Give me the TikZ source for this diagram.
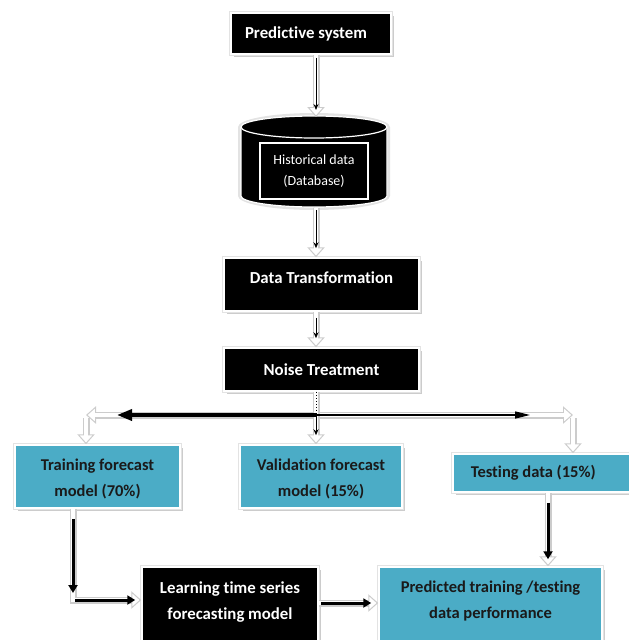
\documentclass[tikz,border=0pt]{standalone}
\usepackage{fontspec}
\setmainfont{Carlito}[Ligatures=NoCommon]
\usetikzlibrary{arrows.meta,shadows}
\definecolor{cyanbox}{HTML}{4BACC6}
\definecolor{darktext}{HTML}{1A1A1A}
\begin{document}
\begin{tikzpicture}[x=1pt,y=1pt,
  box/.style={rectangle, inner sep=0pt, draw=white, line width=1.5pt,
    drop shadow={shadow xshift=2.5pt, shadow yshift=-2.5pt, fill=gray!40, opacity=1},
    preaction={draw=gray!22, line width=4.5pt}},
  blackbox/.style={box, fill=black},
  cbox/.style={box, fill=cyanbox},
  wtxt/.style={text=white, font=\bfseries\fontsize{16.8}{26}\selectfont, align=center},
  dtxt/.style={text=darktext, font=\bfseries\fontsize{16.5}{26}\selectfont, align=center},
  hollow/.style={line width=7pt, draw=gray!40, -{Triangle[width=17pt,length=10pt]},
    postaction={draw=white, line width=4.4pt, -{Triangle[width=12pt,length=7pt]}, shorten >=1.8pt}},
  blkthin/.style={line width=1pt, draw=black, -{Stealth[width=5pt,length=6pt]}},
  blkmid/.style={line width=3.4pt, draw=black, -{Triangle[width=11pt,length=15pt]}},
  blkthick/.style={line width=3pt, draw=black, -{Triangle[width=9pt,length=8pt]}},
]
\useasboundingbox (0,0) rectangle (629,-640);
\clip (0,0) rectangle (629,-640);

% ---- nodes ----
\node[blackbox, minimum width=160, minimum height=41,
  label={[wtxt, xshift=-5pt]center:Predictive system}] (pred) at (311,-33.5) {};

% cylinder (database)
\fill[gray!22] (238,-127) -- (238,-196) arc[start angle=180,end angle=360,x radius=76,y radius=14]
  -- (390,-127) arc[start angle=0,end angle=180,x radius=76,y radius=14] -- cycle;
\filldraw[fill=black, draw=white, line width=1.2pt] (241,-127) -- (241,-196)
  arc[start angle=180,end angle=360,x radius=73,y radius=11]
  -- (387,-127) arc[start angle=0,end angle=180,x radius=73,y radius=11] -- cycle;
\draw[white, line width=1.2pt] (241,-127) arc[start angle=180,end angle=360,x radius=73,y radius=11];
\coordinate (cyltop) at (316,-117);
\coordinate (cylbot) at (316,-208);
\node[rectangle, fill=black, draw=white, line width=1.5pt, minimum width=108, minimum height=56,
  text=white, font=\fontsize{14}{21}\selectfont, align=center] (hist) at (314,-171)
  {Historical data\\(Database)};

\node[blackbox, minimum width=195, minimum height=53,
  label={[wtxt, yshift=6.5pt]center:Data Transformation}] (dt) at (321.5,-284.5) {};
\node[blackbox, minimum width=195, minimum height=43,
  label={[wtxt]center:Noise Treatment}] (nt) at (321.5,-369.5) {};

\node[cbox, minimum width=165, minimum height=63,
  label={[dtxt, yshift=-2pt]center:Training forecast\\model (70\%)}] (train) at (97.5,-476.5) {};
\node[cbox, minimum width=162, minimum height=63,
  label={[dtxt, yshift=-2pt]center:Validation forecast\\model (15\%)}] (val) at (321,-476.5) {};
\node[cbox, minimum width=207, minimum height=38,
  label={[dtxt, anchor=west, xshift=15pt]west:Testing data (15\%)}] (test) at (556.5,-473) {};

\node[blackbox, minimum width=176, minimum height=93,
  label={[wtxt, yshift=11.5pt]center:Learning time series\\forecasting model}] (learn) at (230,-613.5) {};
\node[cbox, minimum width=223, minimum height=93,
  label={[dtxt, yshift=12.5pt]center:Predicted training /testing\\data performance}] (res) at (490.5,-613.5) {};

% ---- connectors ----
\coordinate (ax) at (316,0);
\coordinate (split) at (316,-415);
\coordinate (lcorner) at (86,-415);
\coordinate (rcorner) at (573,-415);
\coordinate (tcorner) at (73,-600);
\coordinate (tx) at (548,0);

% predictive -> database
\draw[hollow] (pred.south -| ax) -- (cyltop);
\draw[blkthin] ([yshift=-3pt]pred.south -| ax) -- ([yshift=7pt]cyltop);
% database -> data transformation
\draw[hollow] (cylbot) -- (dt.north -| ax);
\draw[blkthin] ([yshift=-2pt]cylbot) -- ([yshift=9pt]dt.north -| ax);
% data transformation -> noise treatment
\draw[hollow] (dt.south -| ax) -- (nt.north -| ax);
\draw[blkthin] ([yshift=-6pt]dt.south -| ax) -- ([yshift=9pt]nt.north -| ax);

% split
\draw[hollow] (split) -- (lcorner);
\draw[hollow] (split) -- (rcorner);
\draw[hollow] ([yshift=-3pt]lcorner) -- (train.north -| lcorner);
\draw[hollow] ([yshift=-3pt]rcorner) -- (test.north -| rcorner);
\draw[hollow] (nt.south -| ax) -- (val.north -| ax);
\draw[blkmid] (split) -- (117,-415);
\draw[blkthin, line width=1.3pt, -{Triangle[width=7pt,length=15pt]}] (split) -- (530,-415);
\draw[black, line width=1pt, dotted] (nt.south -| ax) -- (split);
\draw[blkthin] (split) -- ([yshift=9pt]val.north -| ax);

% training -> learning
\draw[hollow] (train.south -| tcorner) -- (tcorner) -- (learn.west |- tcorner);
\draw[blkthick] ([yshift=-10pt]train.south -| tcorner) -- ([yshift=7pt]tcorner);
\draw[blkthick] ([xshift=2pt]tcorner) -- ([xshift=-6pt]learn.west |- tcorner);

% learning -> result
\coordinate (ly) at (0,-603);
\draw[hollow] (learn.east |- ly) -- (res.west |- ly);
\draw[blkthick] ([xshift=2pt]learn.east |- ly) -- ([xshift=-7pt]res.west |- ly);

% testing -> result
\draw[hollow] (test.south -| tx) -- (res.north -| tx);
\draw[blkthick] ([yshift=-10pt]test.south -| tx) -- ([yshift=7pt]res.north -| tx);
\end{tikzpicture}
\end{document}
